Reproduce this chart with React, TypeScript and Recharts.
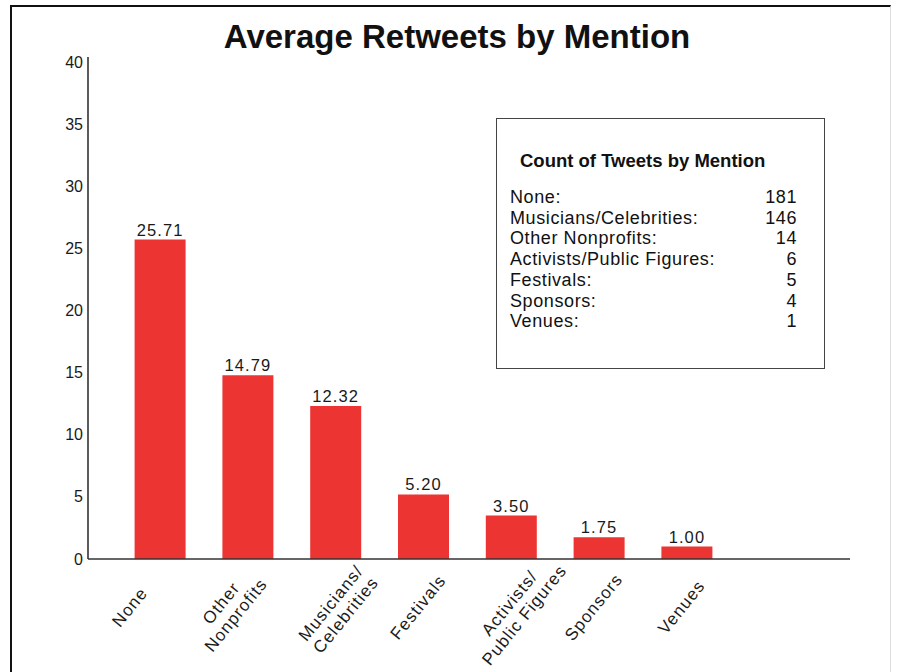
import { BarChart, Bar, XAxis, YAxis, LabelList } from 'recharts';

// average retweets per mention type (bar order)
const mentionLabels = ['None', 'Other\nNonprofits', 'Musicians/\nCelebrities', 'Festivals', 'Activists/\nPublic Figures', 'Sponsors', 'Venues'];
const avgRetweets = [25.71, 14.79, 12.32, 5.2, 3.5, 1.75, 1.0];
const yTicks = [0, 5, 10, 15, 20, 25, 30, 35, 40];

// inset box: count of tweets by mention
const countNames = ['None:', 'Musicians/Celebrities:', 'Other Nonprofits:', 'Activists/Public Figures:', 'Festivals:', 'Sponsors:', 'Venues:'];
const countValues = [181, 146, 14, 6, 5, 4, 1];

const chartData = mentionLabels.map((label, i) => ({ label, value: avgRetweets[i] }));

const FONT = '"Liberation Sans", Arial, Helvetica, sans-serif';

// small horizontal nudges so the rotated labels sit like the original
const tickNudge: { [key: string]: number } = {
    None: -31,
    'Other\nNonprofits': -20,
    'Musicians/\nCelebrities': 2,
    'Activists/\nPublic Figures': 5,
};

const MentionTick = (props: any) => {
    const { x, y, payload } = props;
    const lines: string[] = String(payload.value).split('\n');
    const n = lines.length;
    const dx = tickNudge[payload.value] ?? -6;
    return (
        <g transform={`translate(${x + dx},${y + 46 + (n - 1) * 2}) rotate(-51)`}>
            <text textAnchor="middle" fontSize={17} letterSpacing={1.1} fill="#1a1a1a" fontFamily={FONT}>
                {lines.map((line, i) => (
                    <tspan key={i} x={0} y={(i - (n - 1) / 2) * 19} dy="0.35em">
                        {line}
                    </tspan>
                ))}
            </text>
        </g>
    );
};

const ValueTick = (props: any) => {
    const { x, y, payload } = props;
    return (
        <text x={x} y={y} dy="0.35em" textAnchor="end" fontSize={16} fill="#1a1a1a" fontFamily={FONT}>
            {payload.value}
        </text>
    );
};

export default function App() {
    return (
        <div style={{ position: 'absolute', left: 0, top: 0, width: 900, height: 672, background: '#fff', fontFamily: FONT }}>
            {/* outer frame */}
            <div
                style={{
                    position: 'absolute',
                    left: 10,
                    top: 5,
                    width: 881,
                    height: 668,
                    borderTop: '2px solid #111',
                    borderLeft: '2px solid #111',
                    borderRight: '1px solid #ddd',
                    boxSizing: 'border-box',
                }}
            />

            <div
                style={{
                    position: 'absolute',
                    left: 0,
                    top: 17,
                    width: 914,
                    textAlign: 'center',
                    fontSize: 33,
                    fontWeight: 'bold',
                    color: '#111',
                    lineHeight: '40px',
                }}
            >
                Average Retweets by Mention
            </div>

            <div style={{ position: 'absolute', left: 0, top: 0 }}>
                <BarChart width={900} height={672} data={chartData} margin={{ top: 57, right: 50, bottom: 13, left: 40 }}>
                    <YAxis
                        width={48}
                        domain={[0, 40.4]}
                        ticks={yTicks}
                        interval={0}
                        tickLine={false}
                        tickSize={0}
                        tickMargin={5}
                        axisLine={{ stroke: '#333', strokeWidth: 1.6 }}
                        tick={<ValueTick />}
                    />
                    <XAxis
                        dataKey="label"
                        height={100}
                        interval={0}
                        padding={{ left: 28.6, right: 118.8 }}
                        tickLine={false}
                        tickSize={0}
                        axisLine={{ stroke: '#333', strokeWidth: 1.6 }}
                        tick={<MentionTick />}
                    />
                    <Bar dataKey="value" fill="#ec3432" barSize={51} isAnimationActive={false}>
                        <LabelList
                            dataKey="value"
                            position="top"
                            offset={4}
                            formatter={(v: any) => Number(v).toFixed(2)}
                            style={{ fontSize: 16.5, fill: '#1a1a1a', fontFamily: FONT, letterSpacing: 1.1 }}
                        />
                    </Bar>
                </BarChart>
            </div>

            {/* count box */}
            <div
                style={{
                    position: 'absolute',
                    left: 496,
                    top: 118,
                    width: 329,
                    height: 251,
                    border: '1.5px solid #444',
                    boxSizing: 'border-box',
                }}
            >
                <div style={{ position: 'absolute', left: 23, top: 31, fontSize: 18.5, fontWeight: 'bold', color: '#111', whiteSpace: 'nowrap' }}>
                    Count of Tweets by Mention
                </div>
                {countNames.map((name, i) => (
                    <div
                        key={name}
                        style={{
                            position: 'absolute',
                            left: 13,
                            top: 68 + i * 20.7,
                            width: 287,
                            fontSize: 18,
                            letterSpacing: 0.6,
                            lineHeight: '20px',
                            color: '#111',
                            display: 'flex',
                            justifyContent: 'space-between',
                            whiteSpace: 'nowrap',
                        }}
                    >
                        <span>{name}</span>
                        <span>{countValues[i]}</span>
                    </div>
                ))}
            </div>
        </div>
    );
}
